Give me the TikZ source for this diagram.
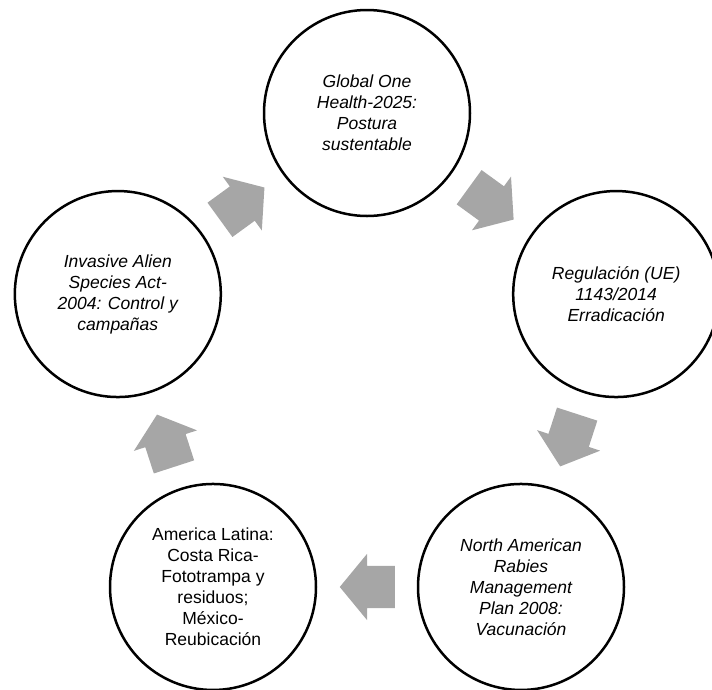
\documentclass[tikz,border=0pt]{standalone}
\usepackage{fontspec}
\setmainfont{Liberation Sans}
\usetikzlibrary{shapes.arrows,calc}

\definecolor{arrowgray}{RGB}{166,166,166}

\begin{document}
\begin{tikzpicture}[x=1pt, y=1pt,
	stage/.style={draw, circle, line width=2.5pt, minimum size=206pt, inner sep=0pt,
		align=center, font=\fontsize{17.5}{21}\selectfont\itshape},
	flow/.style={single arrow, fill=arrowgray, draw=none, inner xsep=0pt, inner ysep=21pt,
		minimum height=55pt, single arrow head extend=12pt, single arrow tip angle=101,
		anchor=tip}]
	\useasboundingbox (0, 0) rectangle (712, -689);
	\coordinate (hub) at (367, -375);

	% the five stages, clockwise from the top
	\node [stage] (global) at ($(hub) + (90:262)$) {Global One\\Health-2025:\\Postura\\sustentable};
	\node [stage] (regulacion) at ($(hub) + (18:262)$) {Regulación (UE)\\1143/2014\\Erradicación};
	\node [stage] (rabies) at ($(hub) + (-54:262)$) {North American\\Rabies\\Management\\Plan 2008:\\Vacunación};
	\node [stage, font=\fontsize{17.5}{21}\selectfont] (latina) at ($(hub) + (-126:262)$) {America Latina:\\Costa Rica-\\Fototrampa y\\residuos;\\México-\\Reubicación};
	\node [stage] (invasive) at ($(hub) + (162:262)$) {Invasive Alien\\Species Act-\\2004: Control y\\campañas};

	% block arrows between them, tip half a length past the midpoint
	\node [flow, rotate=36] (step1) at ($(invasive)!0.5!(global)!27.5pt!(global)$) {};
	\node [flow, rotate=-36] (step2) at ($(global)!0.5!(regulacion)!27.5pt!(regulacion)$) {};
	\node [flow, rotate=-108] (step3) at ($(regulacion)!0.5!(rabies)!27.5pt!(rabies)$) {};
	\node [flow, rotate=180] (step4) at ($(rabies)!0.5!(latina)!27.5pt!(latina)$) {};
	\node [flow, rotate=108] (step5) at ($(latina)!0.5!(invasive)!27.5pt!(invasive)$) {};
\end{tikzpicture}
\end{document}
